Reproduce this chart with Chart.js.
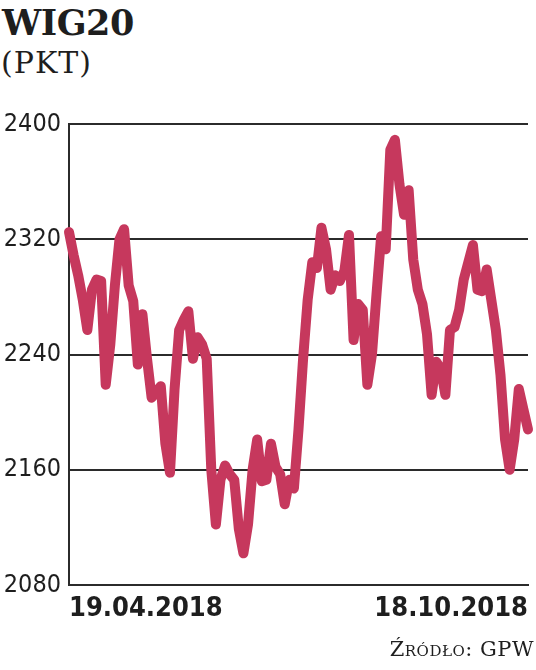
<!DOCTYPE html>
<html>
<head>
<meta charset="utf-8">
<script src="https://cdn.jsdelivr.net/npm/chart.js@4/dist/chart.umd.min.js"></script>
<style>
  body { margin: 0; background: #fff; width: 536px; height: 670px; position: relative; overflow: hidden; }
  #title { position: absolute; left: 2px; top: 2px; font: bold 35px "DejaVu Serif", serif; color: #1e1e1e; letter-spacing: -0.5px; }
  #unit { position: absolute; left: 1px; top: 45px; font: 30px "DejaVu Serif", serif; color: #1e1e1e; letter-spacing: 1px; }
  #source { position: absolute; right: 2px; top: 637px; font: 21px "DejaVu Serif", serif; font-variant: small-caps; color: #1e1e1e; letter-spacing: 0.5px; }
  #wrap { position: absolute; left: 0; top: 0; width: 536px; height: 640px; }
</style>
</head>
<body>
<div id="title">WIG20</div>
<div id="unit">(PKT)</div>
<div id="wrap"><canvas id="wigChart"></canvas></div>
<div id="source">Źródło: GPW</div>
<script>
// Values (index points), 19.04.2018 - 18.10.2018
const wigValues = [
  2325, 2309, 2295, 2278, 2257, 2285, 2292, 2291, 2219, 2247,
  2288, 2320, 2327, 2288, 2277, 2233, 2268, 2237, 2210, 2214,
  2218, 2178, 2158, 2216, 2257, 2264, 2270, 2237, 2252, 2247,
  2237, 2160, 2122, 2153, 2163, 2157, 2153, 2119, 2102, 2122,
  2160, 2181, 2152, 2153, 2178, 2162, 2157, 2136, 2153, 2147,
  2188, 2237, 2278, 2304, 2300, 2328, 2313, 2285, 2295, 2291,
  2298, 2323, 2250, 2275, 2271, 2219, 2240, 2282, 2322, 2313,
  2382, 2389, 2358, 2337, 2354, 2306, 2285, 2275, 2254, 2212,
  2235, 2230, 2212, 2257, 2259, 2271, 2292, 2304, 2316, 2285,
  2284, 2299, 2278, 2257, 2226, 2181, 2160, 2181, 2216, 2202,
  2188
];
const firstDate = '19.04.2018';
const lastDate = '18.10.2018';
const yTicks = [2080, 2160, 2240, 2320, 2400];

const labels = wigValues.map((v, i) => i);
const narrow = '"DejaVu Sans Condensed", "DejaVu Sans", sans-serif';

const ctx = document.getElementById('wigChart').getContext('2d');
new Chart(ctx, {
  type: 'line',
  data: {
    labels: labels,
    datasets: [{
      data: wigValues,
      borderColor: '#c6385d',
      borderWidth: 10,
      borderJoinStyle: 'round',
      borderCapStyle: 'round',
      pointRadius: 0,
      tension: 0,
      fill: false,
      clip: false
    }]
  },
  options: {
    responsive: true,
    maintainAspectRatio: false,
    animation: false,
    events: [],
    layout: { padding: { top: 124, right: 4, bottom: 15, left: 0 } },
    plugins: { legend: { display: false }, tooltip: { enabled: false } },
    scales: {
      x: {
        type: 'category',
        offset: false,
        grid: { display: false, drawTicks: false },
        border: { display: true, color: '#2b2b2b', width: 2 },
        afterFit: s => { s.height = 40; },
        ticks: {
          autoSkip: false,
          maxRotation: 0,
          align: 'inner',
          padding: 8,
          color: '#1e1e1e',
          font: { family: narrow, size: 27, weight: 'bold' },
          callback: function (val, i) {
            if (i === 0) return firstDate;
            if (i === wigValues.length - 1) return lastDate;
            return null;
          }
        }
      },
      y: {
        min: yTicks[0],
        max: yTicks[yTicks.length - 1],
        afterFit: s => { s.width = 69; },
        afterBuildTicks: s => { s.ticks = yTicks.map(v => ({ value: v })); },
        grid: { color: '#2b2b2b', lineWidth: 2, drawTicks: false },
        border: { display: true, color: '#2b2b2b', width: 2 },
        ticks: {
          padding: 8,
          color: '#1e1e1e',
          font: { family: narrow, size: 25 },
          callback: v => String(v)
        }
      }
    }
  }
});
</script>
</body>
</html>
